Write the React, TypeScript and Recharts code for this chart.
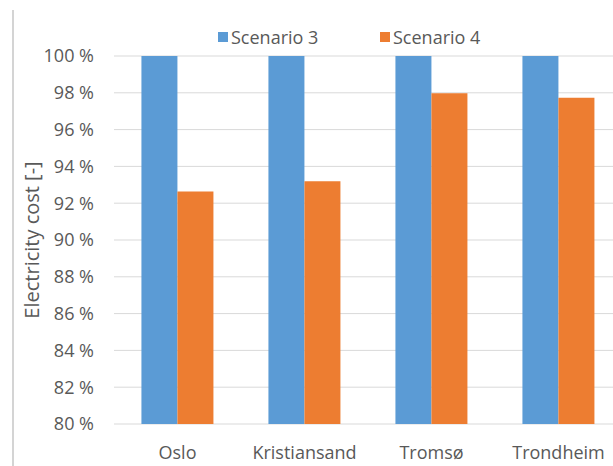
import React from 'react'
import {
  BarChart,
  Bar,
  XAxis,
  YAxis,
  CartesianGrid,
  Legend,
  Label,
} from 'recharts'

const cities = ['Oslo', 'Kristiansand', 'Tromsø', 'Trondheim']
const scenario3 = [1.0, 1.0, 1.0, 1.0]
const scenario4 = [0.9263, 0.9319, 0.9797, 0.9773]
const yTicks = [0.8, 0.82, 0.84, 0.86, 0.88, 0.9, 0.92, 0.94, 0.96, 0.98, 1.0]

const data = cities.map((city, i) => ({
  city,
  s3: scenario3[i],
  s4: scenario4[i],
}))

const FONT = '"Open Sans", sans-serif'
const TEXT = '#595959'

function LegendContent({ payload }: any) {
  return (
    <div style={{ display: 'flex', fontFamily: FONT, fontSize: 18, color: TEXT, lineHeight: '20px' }}>
      {(payload || []).map((item: any) => (
        <div key={item.value} style={{ display: 'flex', alignItems: 'center', width: 162 }}>
          <span style={{ width: 10, height: 10, background: item.color, marginRight: 3, display: 'inline-block' }} />
          <span>{item.value}</span>
        </div>
      ))}
    </div>
  )
}

function YLabel({ viewBox }: any) {
  const cx = viewBox.x + 17
  const cy = viewBox.y + viewBox.height / 2
  return (
    <text
      x={cx}
      y={cy}
      transform={`rotate(-90, ${cx}, ${cy})`}
      textAnchor="middle"
      dominantBaseline="central"
      fill={TEXT}
      fontFamily={FONT}
      fontSize={20}
    >
      Electricity cost [-]
    </text>
  )
}

export default function App() {
  return (
    <div style={{ position: 'absolute', left: 0, top: 0, width: 613, height: 466, overflow: 'hidden', background: '#fff' }}>
      <div style={{ position: 'absolute', left: 12, top: 10, width: 2, height: 456, background: '#d4d4d4' }} />
      <BarChart
        width={630}
        height={466}
        data={data}
        margin={{ top: 56, right: 8, left: 14, bottom: 12 }}
        barCategoryGap="21.6%"
        barGap={0}
      >
        <CartesianGrid vertical={false} stroke="#d9d9d9" />
        <XAxis
          dataKey="city"
          axisLine={false}
          tickLine={false}
          tickSize={0}
          tickMargin={22}
          height={30}
          interval={0}
          tick={{ fontSize: 18, fill: TEXT, fontFamily: FONT }}
        />
        <YAxis
          width={100}
          domain={[0.8, 1]}
          ticks={yTicks}
          axisLine={false}
          tickLine={false}
          tickSize={0}
          tickMargin={20}
          tickFormatter={(v) => `${Math.round(v * 100)} %`}
          tick={{ fontSize: 18, fill: TEXT, fontFamily: FONT }}
        >
          <Label content={<YLabel />} />
        </YAxis>
        <Legend
          layout="horizontal"
          verticalAlign="middle"
          align="center"
          content={<LegendContent />}
          wrapperStyle={{ position: 'absolute', top: 27, left: 218, width: 340, height: 20 }}
        />
        <Bar dataKey="s3" name="Scenario 3" fill="#5b9bd5" isAnimationActive={false} />
        <Bar dataKey="s4" name="Scenario 4" fill="#ed7d31" isAnimationActive={false} />
      </BarChart>
    </div>
  )
}
